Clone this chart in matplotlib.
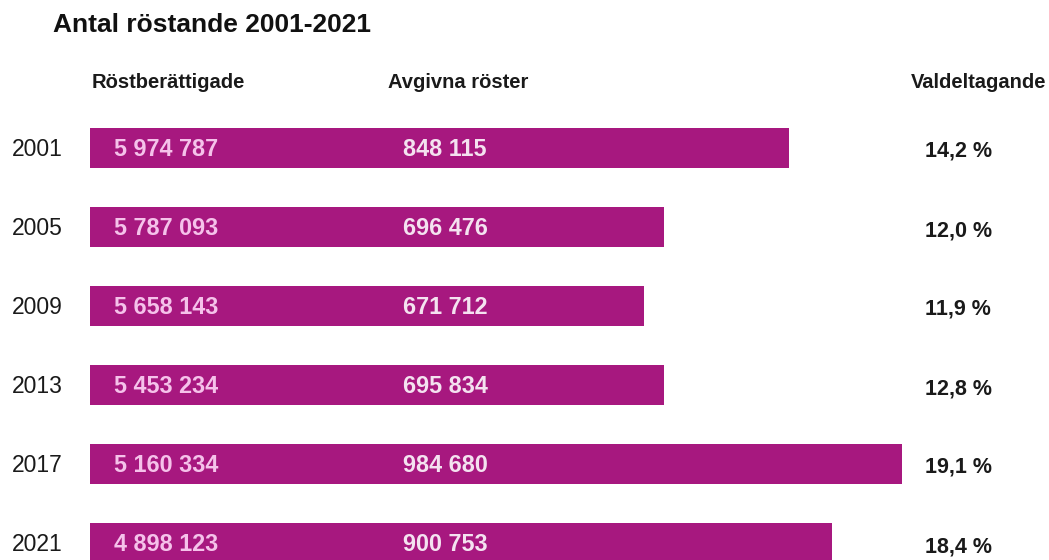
import matplotlib
matplotlib.use("Agg")
import matplotlib.pyplot as plt

years = ["2001", "2005", "2009", "2013", "2017", "2021"]
rostberattigade = [5974787, 5787093, 5658143, 5453234, 5160334, 4898123]
avgivna = [848115, 696476, 671712, 695834, 984680, 900753]
valdeltagande = [14.2, 12.0, 11.9, 12.8, 19.1, 18.4]

title = "Antal röstande 2001-2021"
headers = ["Röstberättigade", "Avgivna röster", "Valdeltagande"]

def fmt_int(v):
    return f"{v:,}".replace(",", " ")

def fmt_pct(v):
    return f"{v:.1f}".replace(".", ",") + " %"

plt.rcParams['font.family'] = ['Liberation Sans', 'DejaVu Sans']

W, H = 1049, 560
fig = plt.figure(figsize=(W / 100, H / 100), dpi=100)
left_px = 90
scale = 0.0008242  # px per vote
ax = fig.add_axes([left_px / W, 0, (W - left_px) / W, 1])
ax.set_xlim(0, (W - left_px) / scale)
y0_px, step_px = 148, 79
ax.set_ylim((H - y0_px) / step_px, -y0_px / step_px)
ax.axis('off')

bar_color = '#a7187f'
ypos = list(range(len(years)))
ax.barh(ypos, avgivna, height=40 / step_px, color=bar_color, left=0)

def px_y(py):
    return 1 - py / H

for i, (yr, rb, av, pct) in enumerate(zip(years, rostberattigade, avgivna, valdeltagande)):
    base = y0_px + step_px * i + 8
    fig.text(12 / W, px_y(base), yr, ha='left', va='baseline',
             fontsize=16.5, color='#1a1a1a')
    fig.text(114 / W, px_y(base), fmt_int(rb), ha='left', va='baseline',
             fontsize=16.8, fontweight='bold', color='#f5c2ea')
    fig.text(403 / W, px_y(base), fmt_int(av), ha='left', va='baseline',
             fontsize=16.8, fontweight='bold', color='#f4e2f0')
    fig.text(925 / W, px_y(base + 1), fmt_pct(pct), ha='left', va='baseline',
             fontsize=15.5, fontweight='bold', color='#1a1a1a')

hb = 88
fig.text(92 / W, px_y(hb), headers[0], ha='left', va='baseline',
         fontsize=14.5, fontweight='bold', color='#1a1a1a')
fig.text(388 / W, px_y(hb), headers[1], ha='left', va='baseline',
         fontsize=14.5, fontweight='bold', color='#1a1a1a')
fig.text(1046 / W, px_y(hb), headers[2], ha='right', va='baseline',
         fontsize=14.5, fontweight='bold', color='#1a1a1a')

fig.text(53 / W, px_y(32), title, ha='left', va='baseline',
         fontsize=19, fontweight='bold', color='#111111')

fig.savefig("out.png", dpi=100)
